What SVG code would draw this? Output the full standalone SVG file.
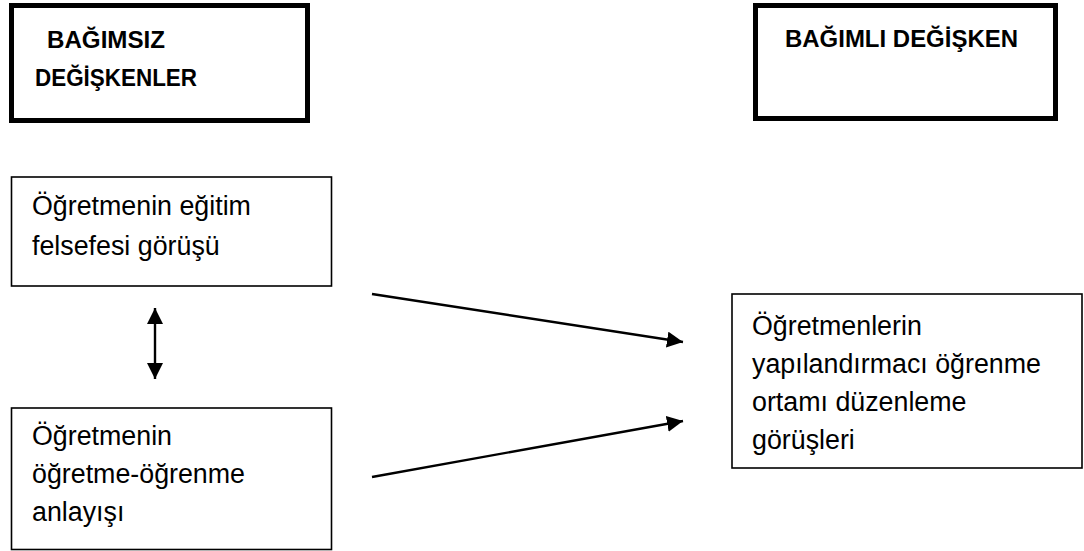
<svg xmlns="http://www.w3.org/2000/svg" width="1084" height="551" viewBox="0 0 1084 551">
<style>
.thick{fill:#fff;stroke:#000;stroke-width:5}
.thin{fill:#fff;stroke:#000;stroke-width:1.6}
.h{font-family:"Liberation Sans",Arial,sans-serif;font-weight:bold;font-size:24px;fill:#000}
.t{font-family:"Liberation Sans",Arial,sans-serif;font-size:26.8px;fill:#000}
.c{stroke:#000;stroke-width:2.4;fill:none}
</style>
<defs>
<marker id="ah2" viewBox="0 0 16 16" refX="16" refY="8" markerWidth="16" markerHeight="16" markerUnits="userSpaceOnUse" orient="auto-start-reverse">
<path d="M0,0 L16,8 L0,16 z" fill="#000"/>
</marker>
</defs>
<g id="node-bagimsiz">
<rect class="thick" x="11.5" y="5.5" width="296" height="115"/>
<text class="h" x="47" y="48" textLength="118" lengthAdjust="spacingAndGlyphs">BAĞIMSIZ</text>
<text class="h" x="35" y="86" textLength="162" lengthAdjust="spacingAndGlyphs">DEĞİŞKENLER</text>
</g>
<g id="node-bagimli">
<rect class="thick" x="755.5" y="5.5" width="300" height="113"/>
<text class="h" x="785" y="47" textLength="233" lengthAdjust="spacingAndGlyphs">BAĞIMLI DEĞİŞKEN</text>
</g>
<g id="node-felsefe">
<rect class="thin" x="11.5" y="177" width="320" height="109"/>
<text class="t" x="32" y="215">Öğretmenin eğitim</text>
<text class="t" x="32" y="255">felsefesi görüşü</text>
</g>
<g id="node-anlayis">
<rect class="thin" x="11.5" y="408" width="320" height="141.5"/>
<text class="t" x="32" y="445">Öğretmenin</text>
<text class="t" x="32" y="483">öğretme-öğrenme</text>
<text class="t" x="32" y="521">anlayışı</text>
</g>
<g id="node-yapilandirmaci">
<rect class="thin" x="732" y="294" width="350" height="174"/>
<text class="t" x="752" y="335">Öğretmenlerin</text>
<text class="t" x="752" y="373">yapılandırmacı öğrenme</text>
<text class="t" x="752" y="411">ortamı düzenleme</text>
<text class="t" x="752" y="449">görüşleri</text>
</g>
<g id="connectors">
<line class="c" x1="155" y1="308" x2="155" y2="379" marker-start="url(#ah2)" marker-end="url(#ah2)"/>
<line class="c" x1="372" y1="294" x2="683" y2="342" marker-end="url(#ah2)"/>
<line class="c" x1="372" y1="477" x2="683" y2="421" marker-end="url(#ah2)"/>
</g>
</svg>
